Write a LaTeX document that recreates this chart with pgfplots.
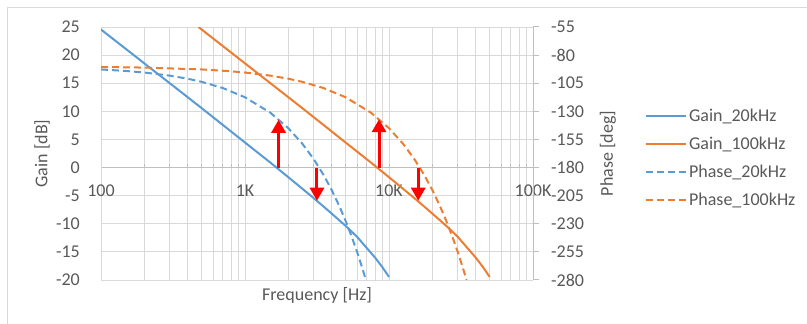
\documentclass[border=0pt]{standalone}
\usepackage{fontspec}
\setmainfont{Carlito}
\usepackage{pgfplots}
\pgfplotsset{compat=1.18}
\usetikzlibrary{arrows.meta}
\definecolor{xblue}{HTML}{5B9BD5}
\definecolor{xorange}{HTML}{ED7D31}
\definecolor{gridc}{HTML}{D9D9D9}
\definecolor{axisc}{HTML}{BFBFBF}
\definecolor{txt}{HTML}{595959}
\begin{document}
\begin{tikzpicture}[font=\fontsize{18bp}{21bp}\selectfont]
\path[use as bounding box] (0,0) rectangle (807bp,324bp);
\draw[gridc, line width=1bp] (7.5bp,0) -- (7.5bp,316.5bp) -- (807bp,316.5bp);
\begin{axis}[
  at={(101bp,44bp)}, anchor=south west, scale only axis, width=432bp, height=253bp,
  xmode=log, xmin=100, xmax=100000, ymin=-20, ymax=25,
  axis x line*=middle, axis y line*=left,
  hide obscured x ticks=false,
  x axis line style={axisc, line width=1bp},
  y axis line style={gridc, line width=1bp},
  xtick={100,1000,10000,100000}, xticklabels={100,1K,10K,100K},
  ytick={-20,-15,...,25},
  ytick style={draw=none},
  xtick style={axisc, line width=1bp},
  xtick align=inside,
  major tick length=0bp, minor tick length=4bp,
  xmajorgrids, xminorgrids, ymajorgrids,
  major grid style={gridc, line width=1bp},
  minor grid style={gridc, line width=1bp},
  /pgf/number format/assume math mode=true,
  ticklabel style={text=txt},
  yticklabel style={anchor=east, inner sep=0pt, xshift=-21bp},
  xticklabel style={anchor=north, inner sep=0pt, yshift=-17bp},
  xlabel={Frequency [Hz]}, ylabel={Gain [dB]},
  every axis x label/.style={at={(axis description cs:0.5,-0.0593)}, anchor=center, text=txt},
  every axis y label/.style={at={(axis description cs:-0.1366,0.5)}, anchor=center, rotate=90, text=txt},
]
\addplot[xblue, line width=2bp] coordinates {(100,24.55)(200,18.53)(500,10.57)(1000,4.45)(1500,0.88)(2000,-1.72)(2500,-3.76)(3000,-5.44)(3500,-6.90)(4000,-8.19)(5000,-10.38)(6000,-12.31)(7000,-14.30)(8000,-16.01)(9000,-17.73)(10000,-19.45)};
\addplot[xorange, line width=2bp] coordinates {(475,25)(1000,18.53)(2500,10.57)(5000,4.45)(7500,0.88)(10000,-1.72)(12500,-3.76)(15000,-5.44)(17500,-6.90)(20000,-8.19)(25000,-10.38)(30000,-12.31)(35000,-14.30)(40000,-16.01)(45000,-17.73)(50000,-19.45)};
\end{axis}
\begin{axis}[
  at={(101bp,44bp)}, anchor=south west, scale only axis, width=432bp, height=253bp,
  xmode=log, xmin=100, xmax=100000, ymin=-280, ymax=-55,
  axis x line=none, axis y line*=right,
  y axis line style={axisc, line width=1bp},
  ytick={-280,-255,...,-55},
  ytick style={axisc, line width=1bp},
  ytick align=outside, major tick length=6bp,
  /pgf/number format/assume math mode=true,
  ticklabel style={text=txt},
  yticklabel style={anchor=west, inner sep=0pt, xshift=12bp},
  ylabel={Phase [deg]},
  every axis y label/.style={at={(axis description cs:1.1736,0.5)}, anchor=center, rotate=90, text=txt},
  legend style={at={(1.259,0.686)}, anchor=north west, draw=none, fill=none, inner sep=0pt, row sep=10bp, text=txt,
    /tikz/every even column/.append style={column sep=4bp}},
  legend cell align=left,
  legend image code/.code={\draw[#1] (0bp,0bp) -- (40bp,0bp);},
]
\addlegendimage{xblue, line width=2bp}
\addlegendentry{Gain\_20kHz}
\addlegendimage{xorange, line width=2bp}
\addlegendentry{Gain\_100kHz}
\addplot[xblue, line width=2bp, dash pattern=on 7bp off 4bp] coordinates {(100,-92.75)(150,-94.13)(200,-95.5)(300,-98.25)(400,-101)(500,-103.75)(700,-109.25)(1000,-117.5)(1500,-131.25)(2000,-145)(2500,-158.75)(3000,-172.5)(3500,-186.25)(4000,-200)(4500,-213.75)(5000,-227.5)(5500,-241.25)(6000,-255)(6500,-268.75)(6909,-280)};
\addlegendentry{Phase\_20kHz}
\addplot[xorange, line width=2bp, dash pattern=on 7bp off 4bp] coordinates {(100,-90.55)(200,-91.1)(500,-92.75)(750,-94.13)(1000,-95.5)(1500,-98.25)(2000,-101)(2500,-103.75)(3500,-109.25)(5000,-117.5)(7500,-131.25)(10000,-145)(12500,-158.75)(15000,-172.5)(17500,-186.25)(20000,-200)(22500,-213.75)(25000,-227.5)(27500,-241.25)(30000,-255)(32500,-268.75)(34545,-280)};
\addlegendentry{Phase\_100kHz}
\addplot[red, line width=3bp, -{Triangle[width=14bp,length=13bp]}, forget plot] coordinates {(1710,-180)(1710,-137.5)};
\addplot[red, line width=3bp, -{Triangle[width=14bp,length=13bp]}, forget plot] coordinates {(3160,-180)(3160,-209.5)};
\addplot[red, line width=3bp, -{Triangle[width=14bp,length=13bp]}, forget plot] coordinates {(8530,-180)(8530,-137)};
\addplot[red, line width=3bp, -{Triangle[width=14bp,length=13bp]}, forget plot] coordinates {(15960,-180)(15960,-209.5)};
\end{axis}
\end{tikzpicture}
\end{document}
